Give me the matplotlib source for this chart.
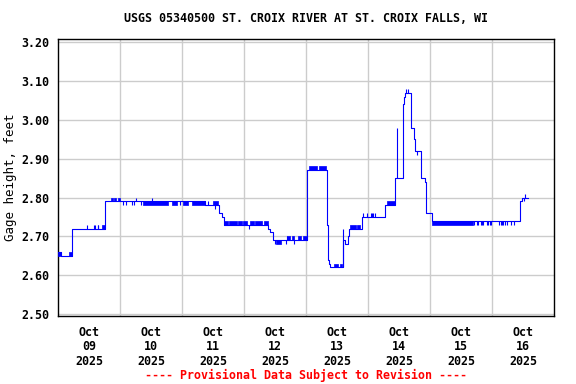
import matplotlib
matplotlib.use('Agg')
import matplotlib.pyplot as plt
import numpy as np

# Gage height readings, hours since 2025-10-09 00:00
step_hours = [0, 1.2, 5.3, 5.5, 18.3, 56.9, 62.3, 63.5, 64.4, 81.4, 82.1, 83.1,
              96.3, 96.5, 104.0, 104.6, 104.9, 105.2, 110.4, 111.1, 112.4, 112.8,
              117.6, 126.6, 130.5, 133.7, 133.9, 134.3, 136.5, 137.8, 138.2,
              140.4, 140.7, 142.1, 142.3, 144.9, 178.9, 179.5, 182.0]
step_feet = [2.66, 2.65, 2.68, 2.72, 2.79, 2.78, 2.76, 2.75, 2.73, 2.72, 2.71, 2.69,
             2.86, 2.87, 2.73, 2.64, 2.63, 2.62, 2.69, 2.68, 2.70, 2.72,
             2.75, 2.78, 2.85, 3.04, 3.06, 3.07, 2.98, 2.95, 2.92,
             2.86, 2.85, 2.84, 2.76, 2.74, 2.79, 2.80, 2.80]

# single readings that jump away from the running level
spike_hours = [11.3, 14.1, 14.3, 15.4, 15.6, 25.3, 26.2, 28.5, 29.5, 30.3, 32.0,
               36.3, 47.2, 58.2, 60.8, 74.1, 84.0, 88.1, 88.5, 91.4, 110.2,
               118.2, 119.5, 121.0, 121.4, 122.1, 122.7, 131.1, 134.7, 135.5, 138.9,
               161.1, 162.1, 162.7, 163.6, 164.1, 164.6, 166.0, 166.6, 167.2, 167.6,
               170.7, 171.4, 172.0, 172.4, 173.0, 173.9, 175.2, 176.5, 180.4, 180.9]
spike_feet = [2.73, 2.73, 2.73, 2.73, 2.73, 2.78, 2.78, 2.78, 2.78, 2.80, 2.78,
              2.80, 2.78, 2.79, 2.77, 2.72, 2.68, 2.68, 2.70, 2.68, 2.72,
              2.76, 2.76, 2.76, 2.76, 2.76, 2.76, 2.98, 3.08, 3.08, 2.91,
              2.73, 2.73, 2.73, 2.73, 2.73, 2.73, 2.73, 2.73, 2.73, 2.73,
              2.73, 2.73, 2.73, 2.73, 2.73, 2.73, 2.73, 2.73, 2.79, 2.81]

# stretches where readings flip back and forth between two levels
flicker_start = [0, 4.1, 17.1, 20.4, 21.8, 23.3, 33.0, 44.0, 48.5, 51.8, 60.1,
                 64.4, 66.2, 69.7, 71.6, 74.3, 76.3, 79.7,
                 84.4, 88.7, 90.5, 93.0, 94.8, 97.1, 101.1, 106.8, 109.0,
                 113.0, 115.9, 127.2, 144.9]
flicker_end = [1.2, 5.3, 18.3, 21.3, 22.5, 24.1, 42.7, 45.9, 50.4, 56.9, 62.0,
               65.8, 69.3, 71.2, 73.0, 75.9, 79.0, 81.4,
               86.3, 89.8, 91.2, 94.0, 96.3, 100.4, 103.7, 108.2, 110.1,
               115.5, 116.9, 130.5, 160.5]
flicker_low = [2.65, 2.65, 2.72, 2.79, 2.79, 2.79, 2.78, 2.78, 2.78, 2.78, 2.78,
               2.73, 2.73, 2.73, 2.73, 2.73, 2.73, 2.73,
               2.68, 2.69, 2.69, 2.69, 2.69, 2.87, 2.87, 2.62, 2.62,
               2.72, 2.72, 2.78, 2.73]
flicker_high = [2.66, 2.66, 2.73, 2.80, 2.80, 2.80, 2.79, 2.79, 2.79, 2.79, 2.79,
                2.74, 2.74, 2.74, 2.74, 2.74, 2.74, 2.74,
                2.69, 2.70, 2.70, 2.70, 2.70, 2.88, 2.88, 2.63, 2.63,
                2.73, 2.73, 2.79, 2.74]

day_labels = ['Oct\n09\n2025', 'Oct\n10\n2025', 'Oct\n11\n2025', 'Oct\n12\n2025',
              'Oct\n13\n2025', 'Oct\n14\n2025', 'Oct\n15\n2025', 'Oct\n16\n2025']
y_ticks = [2.50, 2.60, 2.70, 2.80, 2.90, 3.00, 3.10, 3.20]

plt.rcParams['font.family'] = 'DejaVu Sans Mono'
plt.rcParams['font.weight'] = 'bold'
plt.rcParams['font.size'] = 8.4

fig = plt.figure(figsize=(5.76, 3.84), dpi=100)
ax = fig.add_axes([58 / 576, 1 - 316 / 384, 496 / 576, 277 / 384])

blue = '#0000ff'
t_step = np.array(step_hours) / 24
ax.plot(t_step, step_feet, drawstyle='steps-post', color=blue, lw=0.8, zorder=3)

# spikes drawn from the running level at that time
idx = np.searchsorted(step_hours, spike_hours, side='right') - 1
base = np.array(step_feet)[idx]
ax.vlines(np.array(spike_hours) / 24, base, spike_feet, color=blue, lw=0.8, zorder=3)

for t0, t1, lo, hi in zip(flicker_start, flicker_end, flicker_low, flicker_high):
    ax.fill_between([t0 / 24, t1 / 24], [lo, lo], [hi, hi], color=blue, lw=0.5,
                    edgecolor=blue, zorder=3)

ax.set_xlim(0, 8)
ax.set_ylim(2.4948, 3.2085)
ax.set_xticks(np.arange(1, 8))
ax.set_xticklabels([])
ax.set_xticks(np.arange(8) + 0.5, minor=True)
ax.set_xticklabels(day_labels, minor=True, linespacing=1.15)
ax.set_yticks(y_ticks)
ax.set_yticklabels(['%.2f' % v for v in y_ticks])
ax.tick_params(axis='both', which='both', length=0)
ax.tick_params(axis='x', which='minor', pad=7)
ax.tick_params(axis='y', pad=6)
ax.grid(True, which='major', color='#cccccc', lw=1)
ax.set_axisbelow(True)
for s in ax.spines.values():
    s.set_linewidth(1)

ax.set_ylabel('Gage height, feet', fontsize=9)
ax.yaxis.set_label_coords(-0.083, 0.5)
fig.text(306 / 576, 1 - 19 / 384, 'USGS 05340500 ST. CROIX RIVER AT ST. CROIX FALLS, WI',
         ha='center', va='center')
fig.text(306 / 576, 1 - 375 / 384, '---- Provisional Data Subject to Revision ----',
         ha='center', va='center', color='red')

fig.savefig('out.png', dpi=100)
